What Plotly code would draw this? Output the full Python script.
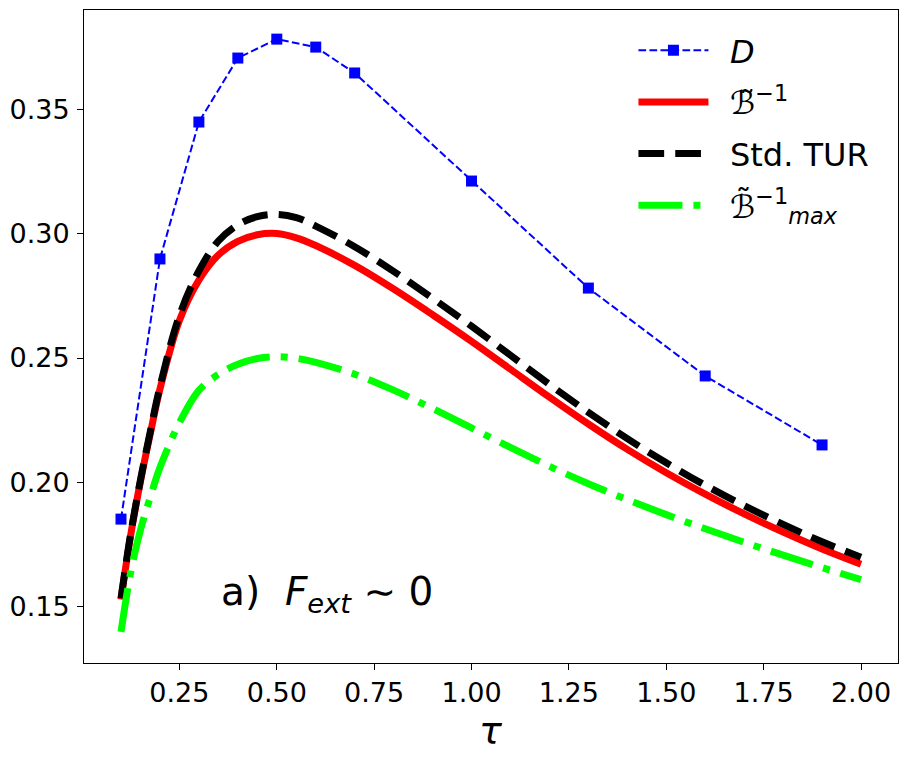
import plotly.graph_objects as go

# Diffusion data points
tau_D = [0.1, 0.2, 0.3, 0.4, 0.5, 0.6, 0.7, 1.0, 1.3, 1.6, 1.9]
D_vals = [0.1853, 0.2898, 0.3448, 0.3705, 0.3781, 0.3749, 0.3645, 0.3211, 0.2781, 0.2428, 0.2151]

# Curves
tau_c = [0.10, 0.125, 0.15, 0.175, 0.20, 0.25, 0.30, 0.35, 0.40, 0.45, 0.50, 0.55, 0.60,
         0.70, 0.80, 0.90, 1.00, 1.10, 1.20, 1.30, 1.40, 1.50, 1.60, 1.70, 1.80, 1.90, 2.00]
B_inv = [0.153, 0.179, 0.2005, 0.2195, 0.2375, 0.2651, 0.2813, 0.2914, 0.2969, 0.2995, 0.3000,
         0.2983, 0.2952, 0.2872, 0.2777, 0.2674, 0.2567, 0.2455, 0.2343, 0.2235, 0.2133, 0.2039,
         0.1953, 0.1874, 0.1801, 0.1733, 0.1672]
std_TUR = [0.1535, 0.1795, 0.201, 0.2203, 0.2385, 0.2670, 0.2850, 0.2970, 0.3035, 0.3068, 0.3077,
           0.3064, 0.3030, 0.2947, 0.2848, 0.2740, 0.2628, 0.2511, 0.2394, 0.2282, 0.2176, 0.2079,
           0.1989, 0.1907, 0.1832, 0.1762, 0.1700]
B_inv_max = [0.140, 0.164, 0.181, 0.194, 0.206, 0.224, 0.237, 0.2435, 0.2475, 0.2498, 0.2505,
             0.2499, 0.2483, 0.2435, 0.2371, 0.2297, 0.2219, 0.2141, 0.2065, 0.1995, 0.1931,
             0.1871, 0.1814, 0.1760, 0.1708, 0.1658, 0.1610]

x_ticks = [0.25, 0.50, 0.75, 1.00, 1.25, 1.50, 1.75, 2.00]
y_ticks = [0.15, 0.20, 0.25, 0.30, 0.35]

FONT = "DejaVu Sans"
PAD = "\u00a0\u2009"
fig = go.Figure()

fig.add_trace(go.Scatter(
    x=tau_D, y=D_vals, mode="lines+markers", name=PAD + "<i>D</i>", legendgroup="g1",
    line=dict(color="#0000ff", width=2, dash="7.7px,3.3px"),
    marker=dict(symbol="square", size=11, color="#0000ff"),
))
fig.add_trace(go.Scatter(
    x=tau_c, y=B_inv, mode="lines", name=PAD + "ℬ̃<sup>−1</sup>", legendgroup="g2",
    line=dict(color="#ff0000", width=7, shape="spline"),
))
fig.add_trace(go.Scatter(
    x=tau_c, y=std_TUR, mode="lines", name=PAD + "Std. TUR", legendgroup="g3",
    line=dict(color="#000000", width=7, shape="spline", dash="25.7px,11.1px"),
))
fig.add_trace(go.Scatter(
    x=tau_c, y=B_inv_max, mode="lines", name=PAD + "ℬ̃<sup>−1</sup><sub><i>max</i></sub>",
    legendgroup="g4",
    line=dict(color="#00ff00", width=7, shape="spline", dash="44px,11px,7px,11px"),
))

fig.add_annotation(
    x=0.352, y=0.1553, xref="x", yref="y", xanchor="left", yanchor="middle",
    text="a)  <i>F<sub>ext</sub></i> ∼ 0", showarrow=False,
    font=dict(family=FONT, size=39, color="black"),
)
fig.add_annotation(
    x=0.5, y=-(730 - 663) / 653, xref="paper", yref="paper", xanchor="center", yanchor="middle",
    text="<i>τ</i>", showarrow=False,
    font=dict(family=FONT, size=38, color="black"),
)

axis_common = dict(
    showgrid=False, zeroline=False, showline=True, mirror=True, automargin=False,
    linecolor="black", linewidth=1, ticks="outside", ticklen=6, tickwidth=1,
    tickcolor="black", tickfont=dict(family=FONT, size=27, color="black"),
)
fig.update_xaxes(range=[0.005, 2.095], tickvals=x_ticks, tickformat=".2f", **axis_common)
fig.update_yaxes(range=[0.1275, 0.3898], tickvals=y_ticks, tickformat=".2f",
                 ticklabelstandoff=2, **axis_common)

# the page body adds an 8 px offset, so the figure is sized/margined to compensate
fig.update_layout(
    width=900, height=752,
    margin=dict(l=76, r=10, t=2, b=97),
    plot_bgcolor="white", paper_bgcolor="white",
    font=dict(family=FONT, color="black"),
    legend=dict(x=0.675, y=0.98, xanchor="left", yanchor="top",
                bgcolor="rgba(0,0,0,0)", font=dict(family=FONT, size=32),
                itemwidth=70, tracegroupgap=7),
    showlegend=True,
)

fig.write_html("out.html")
